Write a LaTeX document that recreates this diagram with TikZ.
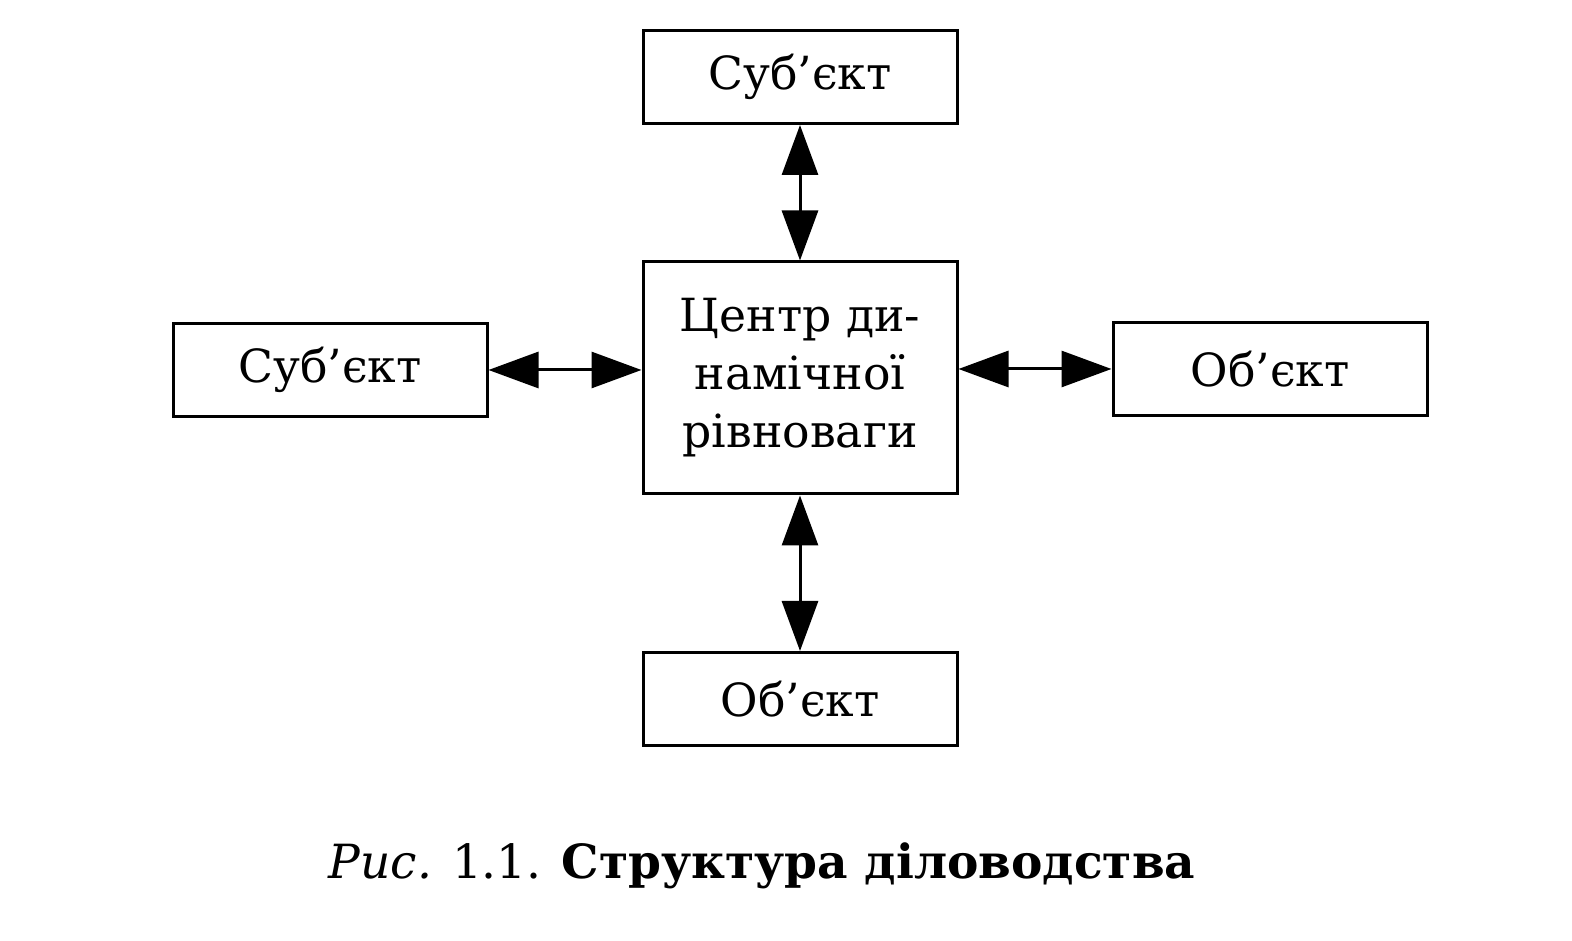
\documentclass[tikz,border=0pt]{standalone}
\usepackage{fontspec}
\setmainfont{DejaVu Serif}
\usetikzlibrary{positioning, arrows.meta}

\begin{document}
\begin{tikzpicture}[node distance=3cm, on grid,
    blok/.style={draw, line width=0.03cm, minimum width=3.14cm, minimum height=0.93cm,
        inner sep=0pt, font=\fontsize{13}{16.5}\selectfont},
    zvjazok/.style={line width=0.03cm,
        {Triangle[length=0.5cm,width=0.36cm]}-{Triangle[length=0.5cm,width=0.36cm]}}]
    \useasboundingbox (0,0) rectangle (15.72,9.41);
    % Define boxes
    \node[blok, minimum height=2.32cm, align=center] (centr) at (8,5.63)
        {Центр ди-\\намічної\\рівноваги};
    \node[blok] (sub1) [above=3.01 of centr] {Суб’єкт};
    \node[blok] (sub2) [left=4.7 of centr, yshift=0.08cm] {Суб’єкт};
    \node[blok] (ob1) [right=4.7 of centr, yshift=0.09cm] {Об’єкт};
    \node[blok] (ob2) [below=3.21 of centr] {Об’єкт};

    % Define links
    \draw[zvjazok] (sub1) -- (centr);
    \draw[zvjazok] (centr) -- (ob2);
    \draw[zvjazok] (sub2.east) -- (sub2.east -| centr.west);
    \draw[zvjazok] (ob1.west -| centr.east) -- (ob1.west);

    % Caption
    \node[font=\fontsize{13.4}{16}\selectfont, anchor=base] (pidpys) at (7.62,0.62)
        {{\itshape Рис.} 1.1. \textbf{Структура діловодства}};
\end{tikzpicture}
\end{document}
